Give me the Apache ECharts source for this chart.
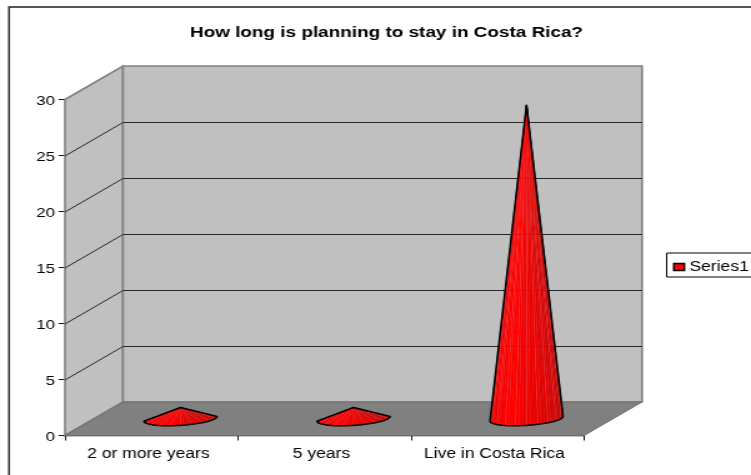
<!DOCTYPE html>
<html>
<head>
<meta charset="utf-8">
<style>
html,body{margin:0;padding:0;width:751px;height:475px;overflow:hidden;background:#fff}
#chart{width:601px;height:475px;transform:scaleX(1.2496);transform-origin:0 0}
</style>
<script src="https://cdn.jsdelivr.net/npm/echarts@6/dist/echarts.min.js"></script>
</head>
<body>
<div id="chart"></div>
<script>
const categories = ['2 or more years', '5 years', 'Live in Costa Rica'];
const seriesName = 'Series1';
const values = [1, 1, 28];
const yTicks = [0, 5, 10, 15, 20, 25, 30];
const chartTitle = 'How long is planning to stay in Costa Rica?';

// Depth of the box, in chart pixels, from the front plane to the back wall.
const DEPTH_X = 46.4, DEPTH_Y = -33.5;
const FONT = '"Liberation Sans", Arial, sans-serif';

const chart = echarts.init(document.getElementById('chart'));

function shade(t) {
  // t runs 0 (left rim) to 1 (right rim) round the front of the cone.
  const stops = [[0, 235], [0.35, 255], [0.65, 228], [1, 185]];
  let i = 0;
  while (i < stops.length - 2 && t > stops[i + 1][0]) i++;
  const k = (t - stops[i][0]) / (stops[i + 1][0] - stops[i][0]);
  const r = Math.round(stops[i][1] + (stops[i + 1][1] - stops[i][1]) * k);
  return 'rgb(' + r + ',' + Math.round((255 - r) * 0.06) + ',' + Math.round((255 - r) * 0.06) + ')';
}

function renderBox(params, api) {
  const sys = params.coordSys;
  const x0 = sys.x, xEnd = sys.x + sys.width;
  const yBottom = api.coord([0, 0])[1];
  const yTop = api.coord([0, 30])[1];
  const dx = DEPTH_X, dy = DEPTH_Y;
  const wallStyle = { fill: '#c0c0c0', stroke: '#808080', lineWidth: 1.6 };
  const children = [
    { type: 'polygon', shape: { points: [[x0, yBottom], [x0, yTop], [x0 + dx, yTop + dy], [x0 + dx, yBottom + dy]] }, style: wallStyle },
    { type: 'polygon', shape: { points: [[x0 + dx, yBottom + dy], [x0 + dx, yTop + dy], [xEnd + dx, yTop + dy], [xEnd + dx, yBottom + dy]] }, style: wallStyle },
    { type: 'polygon', shape: { points: [[x0, yBottom], [x0 + dx, yBottom + dy], [xEnd + dx, yBottom + dy], [xEnd, yBottom]] }, style: { fill: '#808080', stroke: '#6e6e6e', lineWidth: 1 } }
  ];
  yTicks.slice(1, -1).forEach(function (v) {
    const y = api.coord([0, v])[1];
    // Half-pixel nudge keeps the back-wall rule on one pixel row.
    children.push({
      type: 'polyline',
      shape: { points: [[x0, y + 0.5], [x0 + dx, y + dy + 0.5], [xEnd + dx, y + dy + 0.5]] },
      style: { fill: null, stroke: '#262626', lineWidth: 1 }
    });
  });
  return { type: 'group', children: children };
}

function renderCone(params, api) {
  const idx = api.value(0);
  const base = api.coord([idx, 0]);
  const top = api.coord([idx, api.value(1)]);
  const cx = base[0] + DEPTH_X / 2, cy = base[1] + DEPTH_Y / 2;
  const tip = [cx, top[1] + DEPTH_Y / 2];
  const rx = api.size([1, 0])[0] * 0.199;
  const kx = DEPTH_X * 0.21, ky = DEPTH_Y * 0.21;
  const rim = function (a) {
    return [cx + rx * Math.cos(a) + kx * Math.sin(a), cy + ky * Math.sin(a)];
  };
  // The silhouette starts and ends where the skewed rim is widest.
  const start = Math.PI + Math.atan(kx / rx);
  const N = 30;
  const children = [];
  const outline = [tip];
  for (let i = 0; i <= N; i++) outline.push(rim(start + (i / N) * Math.PI));
  for (let i = 0; i < N; i++) {
    const col = shade((i + 0.5) / N);
    children.push({
      type: 'polygon',
      shape: { points: [tip, outline[i + 1], outline[i + 2]] },
      style: { fill: col, stroke: i % 3 === 0 ? 'rgba(255,120,120,0.55)' : col, lineWidth: 0.4 }
    });
  }
  children.push({
    type: 'polygon',
    shape: { points: outline },
    style: { fill: null, stroke: '#000', lineWidth: 1.5, lineJoin: 'round' }
  });
  return { type: 'group', children: children };
}

chart.setOption({
  animation: false,
  backgroundColor: '#fff',
  title: {
    text: chartTitle,
    left: 147,
    top: 20,
    textStyle: { fontFamily: FONT, fontSize: 15.15, fontWeight: 'bold', color: '#000' }
  },
  legend: {
    data: [seriesName],
    left: 533.5,
    top: 253,
    orient: 'vertical',
    icon: 'rect',
    itemWidth: 8.5,
    itemHeight: 7,
    itemGap: 4,
    padding: [7, 30, 3, 5],
    backgroundColor: '#fff',
    borderColor: '#000',
    borderWidth: 1,
    itemStyle: { color: '#ff0000', borderColor: '#000', borderWidth: 1.4 },
    textStyle: { fontFamily: FONT, fontSize: 14, color: '#000', padding: [0, 0, 0, -1] }
  },
  graphic: [{
    type: 'rect',
    silent: true,
    z: -10,
    shape: { x: 7.2, y: 7, width: 700, height: 500 },
    style: { fill: '#fff', stroke: '#222', lineWidth: 1.4 }
  }],
  grid: { left: 52, top: 99.5, width: 415.4, height: 336, containLabel: false },
  xAxis: {
    type: 'category',
    data: categories,
    boundaryGap: true,
    axisLine: { show: true, lineStyle: { color: '#111', width: 1.4 } },
    axisTick: { show: true, length: 5, lineStyle: { color: '#111' } },
    axisLabel: { fontFamily: FONT, fontSize: 14, color: '#000', margin: 12, interval: 0, padding: [0, 5, 0, 0] }
  },
  yAxis: {
    type: 'value',
    min: 0,
    max: 30,
    interval: 5,
    axisLine: { show: true, lineStyle: { color: '#111', width: 1 } },
    axisTick: { show: true, length: 5, lineStyle: { color: '#111' } },
    axisLabel: {
      margin: 8,
      formatter: '{v|{value}}',
      rich: { v: { fontFamily: FONT, fontSize: 13.5, color: '#000', padding: [4, 0, 0, 0] } }
    },
    splitLine: { show: false }
  },
  series: [
    {
      type: 'custom',
      name: 'box',
      silent: true,
      z: 1,
      clip: false,
      data: [[0, 0]],
      renderItem: renderBox,
      encode: { x: 0, y: 1 }
    },
    {
      type: 'custom',
      name: seriesName,
      z: 2,
      clip: false,
      itemStyle: { color: '#ff0000', borderColor: '#000', borderWidth: 1 },
      data: values.map(function (v, i) { return [i, v]; }),
      renderItem: renderCone,
      encode: { x: 0, y: 1 }
    }
  ]
});
</script>
</body>
</html>
